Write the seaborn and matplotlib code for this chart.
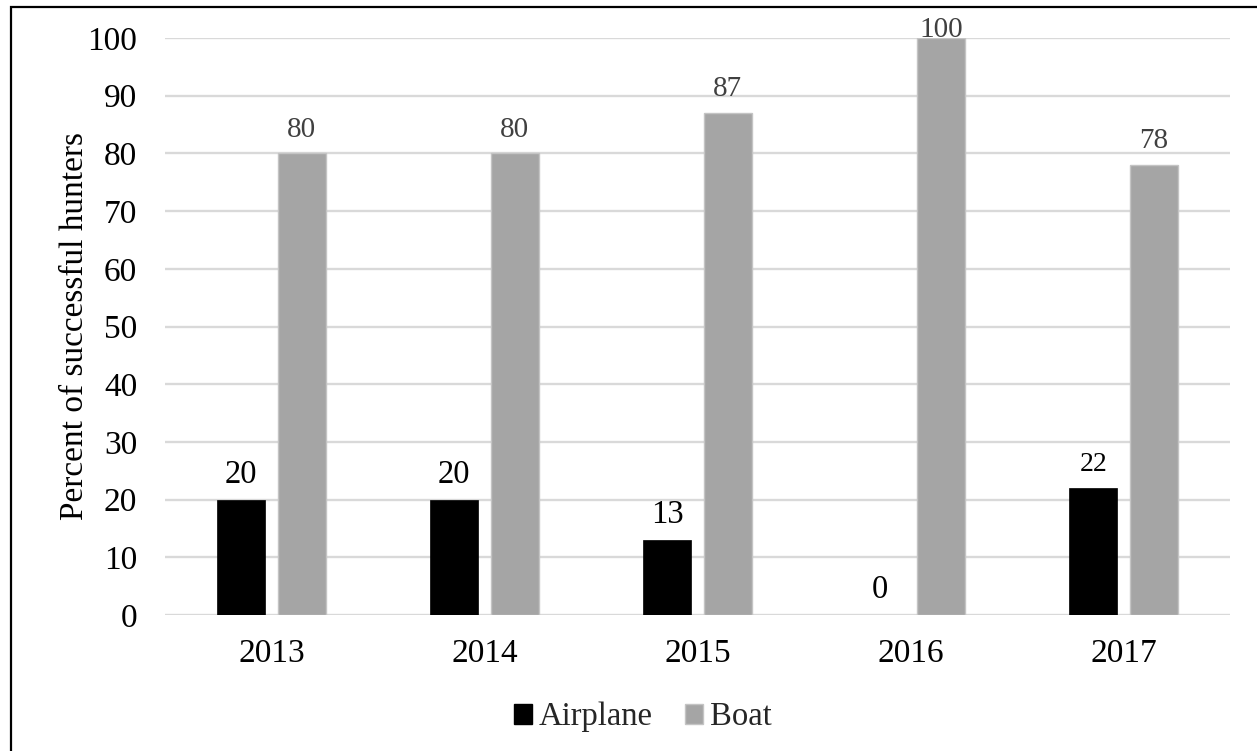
import matplotlib
matplotlib.use("Agg")
import matplotlib.pyplot as plt
import seaborn as sns
import pandas as pd
from matplotlib.patches import Patch, Rectangle

years = ["2013", "2014", "2015", "2016", "2017"]
airplane = [20, 20, 13, 0, 22]
boat = [80, 80, 87, 100, 78]
series_names = ["Airplane", "Boat"]
y_ticks = [0, 10, 20, 30, 40, 50, 60, 70, 80, 90, 100]
y_label = "Percent of successful hunters"

sns.set_theme(style="white")
plt.rcParams["font.family"] = ["Liberation Serif", "DejaVu Serif"]

df = pd.DataFrame({
    "Year": years * 2,
    "Method": [series_names[0]] * len(years) + [series_names[1]] * len(years),
    "Percent": airplane + boat,
})

colors = {"Airplane": "#000000", "Boat": "#a5a5a5"}
label_colors = {"Airplane": "#000000", "Boat": "#404040"}
label_sizes = {"Airplane": 23.5, "Boat": 21}

fig = plt.figure(figsize=(12.57, 7.51), dpi=100)
ax = fig.add_axes([165 / 1257, 1 - 615 / 751, (1230 - 165) / 1257, (615 - 38) / 751])

sns.barplot(data=df, x="Year", y="Percent", hue="Method", order=years,
            hue_order=series_names, palette=colors, width=0.57, gap=0.2,
            errorbar=None, ax=ax, legend=False, zorder=3)

for cont, name in zip(ax.containers, series_names):
    for bar in cont:
        if name == "Boat":
            bar.set_edgecolor("#c4c4c4")
            bar.set_linewidth(1.0)
        else:
            bar.set_edgecolor("#000000")
            bar.set_linewidth(0.5)

ax.set_ylim(0, 100)
ax.set_yticks(y_ticks)
ax.set_yticklabels([str(t) for t in y_ticks])
ax.grid(axis="y", color="#d9d9d9", linewidth=1.7, zorder=0)
ax.set_axisbelow(True)
for s in ax.spines.values():
    s.set_visible(False)
ax.tick_params(axis="both", length=0, labelsize=24, colors="#000000")
ax.tick_params(axis="y", pad=20)
ax.tick_params(axis="x", pad=17)
ax.set_xlabel("")
ax.set_ylabel("")

fig.text(75 / 1257, 1 - 326 / 751, y_label, rotation=90, ha="center", va="center",
         fontsize=24, color="#000000")

# data labels
for cont, name in zip(ax.containers, series_names):
    for bar in cont:
        v = bar.get_height()
        off = 12 if v < 100 else 1
        size = label_sizes[name]
        if name == "Airplane" and v == 22:
            size = 20
        ax.annotate(f"{v:.0f}", (bar.get_x() + bar.get_width() / 2, v),
                    xytext=(0, off), textcoords="offset points",
                    ha="center", va="baseline", fontsize=size,
                    color=label_colors[name], annotation_clip=False, zorder=5)

handles = [Patch(facecolor=colors[n], edgecolor=colors[n] if n == "Airplane" else "#c4c4c4",
                 label=n) for n in series_names]
fig.legend(handles=handles, loc="center", bbox_to_anchor=(643 / 1257, 1 - 717 / 751),
           ncol=2, frameon=False, fontsize=23.5, handlelength=0.55, handleheight=0.55,
           handletextpad=0.2, columnspacing=1.0)

fig.patches.append(Rectangle((11 / 1257, -0.2), 1.5, 1.2 - 7 / 751,
                             transform=fig.transFigure, fill=False,
                             edgecolor="#000000", linewidth=1.6, zorder=10))

fig.savefig("out.png", dpi=100)
